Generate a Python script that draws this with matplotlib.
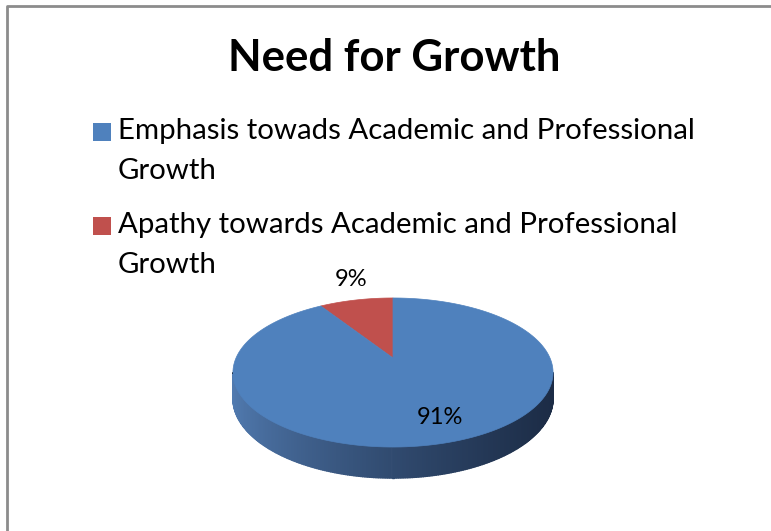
import numpy as np
import matplotlib
matplotlib.use("Agg")
import matplotlib.pyplot as plt
from matplotlib.patches import Polygon, Rectangle

title = "Need for Growth"
labels = ["Emphasis towads Academic and Professional\nGrowth",
          "Apathy towards Academic and Professional\nGrowth"]
values = [91, 9]
colors = ["#4f81bd", "#c0504d"]

plt.rcParams['font.family'] = ['Lato', 'DejaVu Sans']

W, H = 771, 531
fig = plt.figure(figsize=(W / 100, H / 100), dpi=100)
ax = fig.add_axes([0, 0, 1, 1])
ax.set_xlim(0, W)
ax.set_ylim(H, 0)
ax.axis("off")

# pie geometry (pixels), simple perspective for the tilted disc
cx, cy = 393, 358
A, B, k = 157, 71.7, 0.1946
depth = 25


def project(theta, drop=0.0):
    u, v = np.cos(theta), np.sin(theta)
    w = 1 + k * v
    return cx + A * u / w, cy - B * v / w + drop / w


# side wall (front half) with a dark gradient to the right
t0, t1 = np.pi + np.arcsin(k), 2 * np.pi - np.arcsin(k)
ts = np.linspace(t0, t1, 240)
light = np.array([82, 124, 178]) / 255
dark = np.array([28, 44, 70]) / 255
for a, b in zip(ts[:-1], ts[1:]):
    xa, ya = project(a)
    xb, yb = project(b)
    xa2, ya2 = project(a, depth)
    xb2, yb2 = project(b, depth)
    f = ((xa + xb) / 2 - (cx - 160)) / 320
    c = light + (dark - light) * f ** 0.7
    ax.add_patch(Polygon([(xa, ya), (xb, yb), (xb2, yb2), (xa2, ya2)],
                         closed=True, fc=c, ec=c, lw=1.0))

# top face slices, starting at 12 o'clock going counter-clockwise
start = np.pi / 2
total = sum(values)
for val, col in zip(values[::-1], colors[::-1]):
    span = 2 * np.pi * val / total
    th = np.linspace(start, start + span, 200)
    pts = [(cx, cy)] + [project(t) for t in th]
    ax.add_patch(Polygon(pts, closed=True, fc=col, ec=col, lw=0.5))
    start += span

# data labels
ax.text(351, 279, "%d%%" % values[1], fontsize=17, ha="center", va="center")
ax.text(440, 417, "%d%%" % values[0], fontsize=17, ha="center", va="center")

# title
ax.text(394, 58, title, fontsize=31.5, fontweight="bold", ha="center", va="center")

# legend (one text per wrapped line)
for i, (lab, col) in enumerate(zip(labels, colors)):
    y0 = 123 + i * 94
    ax.add_patch(Rectangle((93, y0), 18, 18, fc=col, ec="none"))
    for j, line in enumerate(lab.split("\n")):
        ax.text(118, y0 + 8.5 + j * 39.5, line, fontsize=21.2,
                ha="left", va="center")

# chart border
ax.plot([6.5, 6.5, W], [H, 6, 6], color="#8c8c8c", lw=2, solid_capstyle="butt")

fig.savefig("out.png", dpi=100)
